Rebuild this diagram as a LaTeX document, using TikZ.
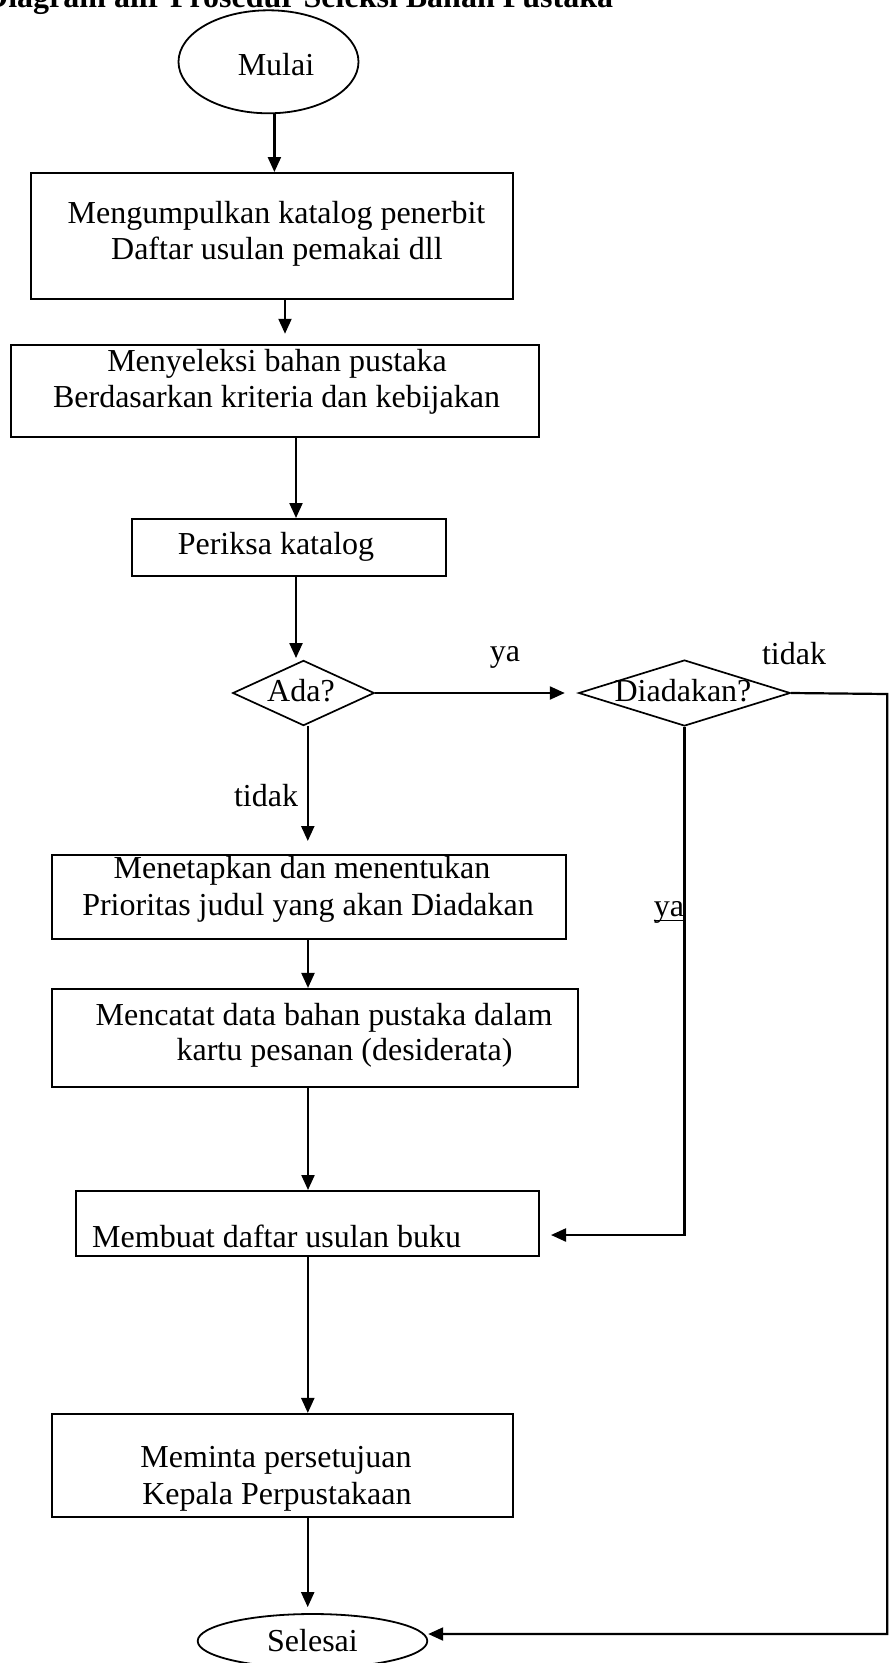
\documentclass[tikz,border=0pt]{standalone}
\usepackage{fontspec}
\setmainfont{Liberation Serif}
\usetikzlibrary{arrows.meta,shapes.geometric}
\tikzset{
  arr/.style={draw, line width=2.2pt, -{Triangle[length=15pt,width=13pt]}},
  box/.style={draw, line width=2pt, rectangle, inner sep=0pt},
  oval/.style={draw, line width=1.8pt, ellipse, inner sep=0pt},
  dia/.style={draw, line width=1.7pt, diamond, inner sep=0pt},
  txt/.style={font=\fontsize{32}{36}\selectfont, inner sep=0pt, anchor=base},
}
\begin{document}
\begin{tikzpicture}[x=1pt,y=-1pt]
\useasboundingbox (0,0) rectangle (889,1663);
\clip (0,0) rectangle (889,1663);
% title (cut off at the top, as in the reference)
\node[font=\fontsize{32}{36}\selectfont\bfseries, inner sep=0pt, anchor=base west] (title) at (-15,7) {Diagram alir Prosedur Seleksi Bahan Pustaka};
% shapes
\node[oval, minimum width=180pt, minimum height=103pt] (mulai) at (268.5,61.8) {};
\node[box, minimum width=482.4pt, minimum height=126.3pt] (b1) at (271.8,236.2) {};
\node[box, minimum width=527.3pt, minimum height=92.3pt] (b2) at (275,390.9) {};
\node[box, minimum width=313.6pt, minimum height=57pt] (b3) at (288.8,547.5) {};
\node[dia, minimum width=141.6pt, minimum height=65.2pt] (ada) at (303.5,693) {};
\node[dia, minimum width=211.7pt, minimum height=66pt] (diad) at (684.5,693) {};
\node[box, minimum width=513.4pt, minimum height=84pt] (b4) at (309,897) {};
\node[box, minimum width=525.7pt, minimum height=97.7pt] (b5) at (315.2,1037.8) {};
\node[box, minimum width=463pt, minimum height=65pt] (b6) at (307.5,1223.5) {};
\node[box, minimum width=461pt, minimum height=102.7pt] (b7) at (282.5,1465.3) {};
\node[oval, minimum width=229.6pt, minimum height=54pt] (sel) at (312.5,1641) {};
% texts
\node[txt] (t0) at (276,75) {Mulai};
\node[txt] (t1a) at (276.5,223) {Mengumpulkan katalog penerbit};
\node[txt] (t1b) at (276.9,259) {Daftar usulan pemakai dll};
\node[txt] (t2a) at (277,371) {Menyeleksi bahan pustaka};
\node[txt] (t2b) at (276.5,407) {Berdasarkan kriteria dan kebijakan};
\node[txt] (t3) at (276,554.4) {Periksa katalog};
\node[txt] (tada) at (301,701) {Ada?};
\node[txt] (tdiad) at (683,701) {Diadakan?};
\node[txt] (lya1) at (505,661) {ya};
\node[txt] (ltidak1) at (794,664) {tidak};
\node[txt] (ltidak2) at (266,806.5) {tidak};
\node[txt] (t4a) at (302,878) {Menetapkan dan menentukan};
\node[txt] (t4b) at (308,915) {Prioritas judul yang akan Diadakan};
\node[txt] (t5a) at (324,1025.5) {Mencatat data bahan pustaka dalam};
\node[txt] (t5b) at (344.5,1060) {kartu pesanan (desiderata)};
\node[txt] (t6) at (276.6,1247) {Membuat daftar usulan buku};
\node[txt] (t7a) at (276,1467) {Meminta persetujuan};
\node[txt] (t7b) at (277,1504) {Kepala Perpustakaan};
\node[txt] (lya2) at (669,916.7) {ya};
\draw[line width=1.4pt] ([yshift=-3.5pt]lya2.base west) -- ([yshift=-3.5pt]lya2.base west -| diad.south);
\node[txt] (tsel) at (312.5,1651) {Selesai};
% connectors
\draw[arr] ([xshift=5.9pt]mulai.south) -- ([xshift=5.9pt]mulai.south |- b1.north);
\draw[arr, shorten >=10pt] ([xshift=13.2pt]b1.south) -- ([xshift=13.2pt]b1.south |- b2.north);
\draw[arr] ([xshift=21pt]b2.south) -- ([xshift=21pt]b2.south |- b3.north);
\draw[arr, shorten >=1.5pt] ([xshift=7.2pt]b3.south) -- ([xshift=7.2pt]b3.south |- ada.north);
\draw[arr] (ada.east) -- ([xshift=-13pt]diad.west);
\draw[arr, shorten >=13pt] ([xshift=4.3pt]ada.south) -- ([xshift=4.3pt]ada.south |- b4.north);
\draw[arr] ([xshift=-1pt]b4.south) -- ([xshift=-1pt]b4.south |- b5.north);
\draw[arr] ([xshift=-7.2pt]b5.south) -- ([xshift=-7.2pt]b5.south |- b6.north);
\draw[arr] (diad.south) |- ([xshift=11pt,yshift=-11.5pt]b6.east);
\draw[arr] ([xshift=0.3pt]b6.south) -- ([xshift=0.3pt]b6.south |- b7.north);
\draw[arr, shorten >=6pt] ([xshift=25.2pt]b7.south) -- ([xshift=25.2pt]b7.south |- sel.north);
\coordinate (rc) at (887.3,694);
\draw[arr] (diad.east) -- (rc) |- ([yshift=7pt]sel.east);
\end{tikzpicture}
\end{document}
